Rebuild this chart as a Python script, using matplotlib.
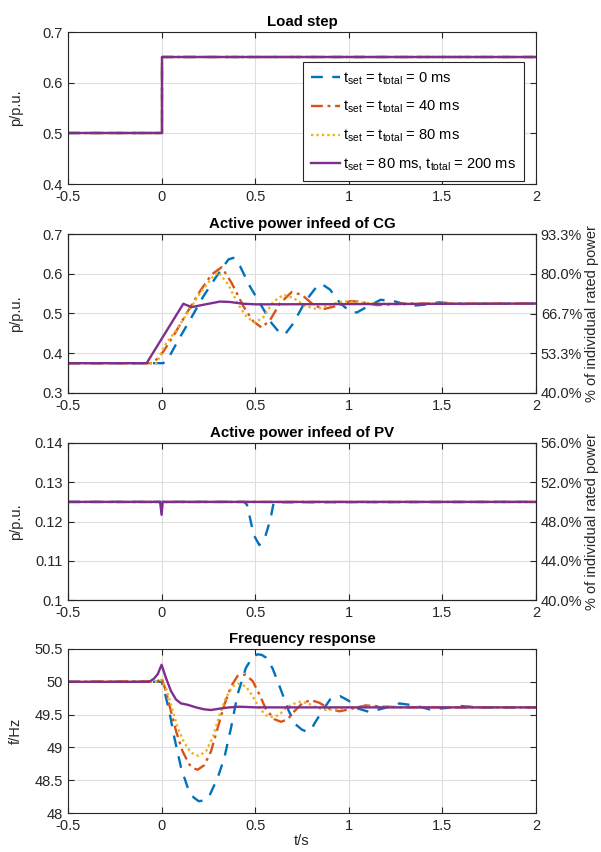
import matplotlib
matplotlib.use("Agg")
import matplotlib.pyplot as plt
import numpy as np

plt.rcParams['font.family'] = ['Liberation Sans', 'DejaVu Sans']
plt.rcParams['mathtext.fontset'] = 'custom'
plt.rcParams['mathtext.rm'] = 'Liberation Sans'
plt.rcParams['mathtext.default'] = 'regular'

# ---------------- data ----------------
labels = [r'$t_{set}$ = $t_{total}$ = 0 ms',
          r'$t_{set}$ = $t_{total}$ = 40 ms',
          r'$t_{set}$ = $t_{total}$ = 80 ms',
          r'$t_{set}$ = 80 ms, $t_{total}$ = 200 ms']
colors = ['#0072BD', '#D95319', '#EDB120', '#7E2F8E']
styles = [(0, (5, 4)), (0, (5, 2, 1.2, 2)), (0, (1, 1.3)), '-']

cg_rated = 0.75
pv_rated = 0.25

# Load step
load_t = [-0.5, 0.0, 0.0, 2.0]
load_v = [0.5, 0.5, 0.65, 0.65]

# Active power CG
cg_t0 = [-0.5, 0.0, 0.009, 0.036, 0.089, 0.152, 0.223, 0.294, 0.357, 0.383, 0.419, 0.472, 0.535,
         0.588, 0.633, 0.66, 0.704, 0.767, 0.829, 0.856, 0.90, 0.954, 1.007, 1.043, 1.09, 1.17,
         1.25, 1.33, 1.40, 1.48, 1.6, 2.0]
cg_v0 = [0.375, 0.375, 0.375, 0.387, 0.433, 0.484, 0.543, 0.594, 0.636, 0.640, 0.619, 0.568, 0.518,
         0.4755, 0.450, 0.448, 0.4755, 0.530, 0.568, 0.574, 0.56, 0.526, 0.505, 0.5025, 0.515, 0.5345,
         0.530, 0.519, 0.522, 0.528, 0.524, 0.525]
cg_t40 = [-0.5, -0.045, 0.009, 0.071, 0.134, 0.205, 0.267, 0.321, 0.374, 0.437, 0.49, 0.535, 0.58,
          0.633, 0.695, 0.749, 0.811, 0.864, 0.936, 1.007, 1.05, 1.15, 1.3, 2.0]
cg_v40 = [0.375, 0.375, 0.404, 0.45, 0.501, 0.556, 0.598, 0.6165, 0.577, 0.518, 0.48, 0.4645, 0.484,
          0.526, 0.554, 0.547, 0.522, 0.511, 0.519, 0.531, 0.530, 0.521, 0.525, 0.525]
cg_t80 = [-0.5, -0.027, 0.018, 0.08, 0.143, 0.205, 0.267, 0.303, 0.356, 0.41, 0.455, 0.499, 0.544,
          0.597, 0.651, 0.704, 0.767, 0.829, 0.90, 0.972, 1.043, 1.2, 2.0]
cg_v80 = [0.375, 0.375, 0.421, 0.459, 0.505, 0.551, 0.589, 0.604, 0.573, 0.522, 0.491, 0.477, 0.491,
          0.530, 0.547, 0.539, 0.519, 0.511, 0.522, 0.531, 0.528, 0.524, 0.525]
cg_t200 = [-0.5, -0.08, 0.116, 0.16, 0.223, 0.312, 0.365, 0.436, 0.507, 2.0]
cg_v200 = [0.375, 0.375, 0.5245, 0.516, 0.522, 0.530, 0.529, 0.5245, 0.523, 0.525]

# Active power PV
pv_t0 = [-0.5, 0.44, 0.456, 0.474, 0.492, 0.522, 0.554, 0.581, 0.599, 2.0]
pv_v0 = [0.125, 0.125, 0.1243, 0.1205, 0.1166, 0.114, 0.1162, 0.1205, 0.1249, 0.125]
pv_t40 = [-0.5, 2.0]
pv_v40 = [0.125, 0.125]
pv_t80 = [-0.5, 2.0]
pv_v80 = [0.125, 0.125]
pv_t200 = [-0.5, -0.008, 0.0, 0.006, 2.0]
pv_v200 = [0.125, 0.125, 0.1217, 0.125, 0.125]

# Frequency
f_t0 = [-0.5, 0.0, 0.02, 0.041, 0.068, 0.104, 0.139, 0.17, 0.198, 0.225, 0.255, 0.30, 0.335, 0.371,
        0.406, 0.45, 0.48, 0.512, 0.535, 0.557, 0.592, 0.637, 0.68, 0.716, 0.75, 0.775, 0.80, 0.82,
        0.857, 0.90, 0.955, 1.0, 1.04, 1.11, 1.19, 1.27, 1.35, 1.43, 1.52, 1.6, 1.7, 2.0]
f_v0 = [50.0, 50.0, 49.80, 49.55, 49.15, 48.69, 48.39, 48.24, 48.18, 48.19, 48.26, 48.54, 48.84, 49.30,
        49.81, 50.21, 50.35, 50.42, 50.41, 50.37, 50.21, 49.88, 49.55, 49.35, 49.27, 49.24, 49.28, 49.38,
        49.55, 49.73, 49.78, 49.71, 49.60, 49.54, 49.60, 49.67, 49.64, 49.58, 49.60, 49.63, 49.61, 49.61]
f_t40 = [-0.5, -0.02, 0.0, 0.023, 0.05, 0.077, 0.112, 0.148, 0.17, 0.193, 0.228, 0.264, 0.30, 0.335,
         0.371, 0.406, 0.447, 0.487, 0.522, 0.558, 0.602, 0.638, 0.674, 0.709, 0.754, 0.798, 0.843,
         0.896, 0.95, 1.0, 1.09, 1.2, 1.3, 2.0]
f_v40 = [50.0, 50.01, 50.06, 49.86, 49.55, 49.25, 48.94, 48.74, 48.68, 48.66, 48.73, 48.94, 49.30, 49.65,
         49.93, 50.09, 50.11, 50.01, 49.81, 49.58, 49.43, 49.39, 49.43, 49.55, 49.68, 49.72, 49.68,
         49.59, 49.55, 49.58, 49.64, 49.62, 49.61, 49.61]
f_t80 = [-0.5, -0.02, 0.0, 0.023, 0.05, 0.086, 0.121, 0.157, 0.198, 0.237, 0.273, 0.308, 0.344, 0.38,
         0.41, 0.45, 0.487, 0.522, 0.558, 0.594, 0.63, 0.665, 0.70, 0.745, 0.79, 0.834, 0.879, 0.932,
         0.986, 1.1, 2.0]
f_v80 = [50.0, 50.0, 50.03, 49.91, 49.65, 49.30, 49.07, 48.92, 48.87, 48.94, 49.15, 49.48, 49.76, 49.93,
         49.97, 49.93, 49.78, 49.60, 49.49, 49.46, 49.50, 49.60, 49.66, 49.70, 49.66, 49.60, 49.57, 49.58,
         49.61, 49.62, 49.61]
f_t200 = [-0.5, -0.066, -0.04, -0.02, 0.0, 0.023, 0.05, 0.077, 0.104, 0.139, 0.184, 0.228, 0.264,
          0.308, 0.362, 0.415, 0.505, 2.0]
f_v200 = [50.0, 50.0, 50.05, 50.12, 50.26, 50.06, 49.86, 49.73, 49.67, 49.65, 49.61, 49.58, 49.57,
          49.59, 49.61, 49.62, 49.61, 49.61]

x_ticks = [-0.5, 0, 0.5, 1, 1.5, 2]
x_ticklabels = ['-0.5', '0', '0.5', '1', '1.5', '2']

panels = [
    dict(title='Load step', ylabel='p/p.u.', ylim=(0.4, 0.7), yticks=[0.4, 0.5, 0.6, 0.7],
         series=[(load_t, load_v)] * 4, rated=None),
    dict(title='Active power infeed of CG', ylabel='p/p.u.', ylim=(0.3, 0.7),
         yticks=[0.3, 0.4, 0.5, 0.6, 0.7],
         series=[(cg_t0, cg_v0), (cg_t40, cg_v40), (cg_t80, cg_v80), (cg_t200, cg_v200)], rated=cg_rated),
    dict(title='Active power infeed of PV', ylabel='p/p.u.', ylim=(0.1, 0.14),
         yticks=[0.1, 0.11, 0.12, 0.13, 0.14],
         series=[(pv_t0, pv_v0), (pv_t40, pv_v40), (pv_t80, pv_v80), (pv_t200, pv_v200)], rated=pv_rated),
    dict(title='Frequency response', ylabel='f/Hz', ylim=(48, 50.5),
         yticks=[48, 48.5, 49, 49.5, 50, 50.5],
         series=[(f_t0, f_v0), (f_t40, f_v40), (f_t80, f_v80), (f_t200, f_v200)], rated=None),
]

W, H = 601, 852
fig = plt.figure(figsize=(W / 100, H / 100), dpi=100)
ax_px = [(32, 184), (234, 393), (443, 600), (649, 813)]
left_px, right_px = 68, 536
aw = right_px - left_px
dark = '#262626'

for i, (p, (top, bot)) in enumerate(zip(panels, ax_px)):
    ax = fig.add_axes([left_px / W, 1 - bot / H, aw / W, (bot - top) / H])
    lines = []
    for (t, v), c, ls, lab in zip(p['series'], colors, styles, labels):
        ln, = ax.plot(t, v, color=c, linestyle=ls, lw=1.7, label=lab)
        lines.append(ln)
    ax.set_xlim(-0.5, 2)
    ax.set_ylim(*p['ylim'])
    ax.set_xticks(x_ticks)
    ax.set_xticklabels(x_ticklabels)
    ax.set_yticks(p['yticks'])
    ax.set_yticklabels([('%g' % y) for y in p['yticks']])
    ax.grid(True, color='#dedede', lw=0.8)
    ax.set_axisbelow(True)
    ax.tick_params(direction='in', length=4, width=0.8, colors=dark, labelsize=10.5,
                   top=True, right=(p['rated'] is None), labelcolor=dark)
    ax.tick_params(axis='x', pad=4)
    for s in ax.spines.values():
        s.set_color(dark)
        s.set_linewidth(0.8)
    ax.set_title(p['title'], fontsize=10.8, fontweight='bold', pad=4, color='black')
    ax.set_ylabel(p['ylabel'], fontsize=10.5, color=dark)
    ax.yaxis.set_label_coords((23 - left_px) / aw, 0.5)
    if i == 3:
        ax.set_xlabel('t/s', fontsize=10.5, color=dark, labelpad=1)
    if p['rated'] is not None:
        ax2 = ax.twinx()
        lo, hi = p['ylim']
        ax2.set_ylim(lo / p['rated'] * 100, hi / p['rated'] * 100)
        rt = [y / p['rated'] * 100 for y in p['yticks']]
        ax2.set_yticks(rt)
        ax2.set_yticklabels(['%.1f%%' % r for r in rt])
        ax2.tick_params(direction='in', length=4, width=0.8, colors=dark, labelsize=10.5)
        for s in ax2.spines.values():
            s.set_color(dark)
            s.set_linewidth(0.8)
        ax2.set_ylabel('% of individual rated power', fontsize=10.5, color=dark)
        ax2.yaxis.set_label_coords((585 - left_px) / aw, 0.5)
    if i == 0:
        leg = ax.legend(handles=lines, loc='lower right',
                        bbox_to_anchor=((524 - left_px) / aw, (bot - 181) / (bot - top)),
                        borderaxespad=0, fontsize=10.5, fancybox=False, framealpha=1,
                        edgecolor=dark, handlelength=2.0, labelspacing=0.85, borderpad=0.55,
                        handletextpad=0.2)
        leg.get_frame().set_linewidth(0.8)

fig.savefig('out.png', dpi=100)
